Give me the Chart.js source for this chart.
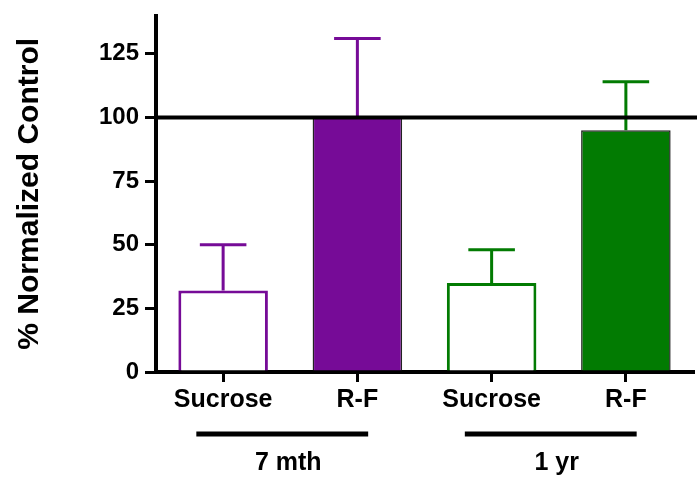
<!DOCTYPE html>
<html>
<head>
<meta charset="utf-8">
<script src="https://cdn.jsdelivr.net/npm/chart.js@4"></script>
<style>
  html, body { margin: 0; padding: 0; background: #fff; }
  #wrap { width: 697px; height: 481px; }
</style>
</head>
<body>
<div id="wrap"><canvas id="normChart"></canvas></div>
<script>
// Chart data
const categories = ['Sucrose', 'R-F', 'Sucrose', 'R-F'];
const groupLabels = ['7 mth', '1 yr'];
const meanValues = [32, 100, 35, 95];
const errorValues = [18, 31, 13, 19];
const yTickValues = [0, 25, 50, 75, 100, 125];
const controlLevel = 100;

const purple = '#760b97';
const green = '#027b02';
const FONT = '"Liberation Sans", Arial, sans-serif';

// Error bars (upper only) drawn through the y scale
const errorBarPlugin = {
    id: 'errorBars',
    afterDatasetsDraw(chart) {
        const ctx = chart.ctx;
        const meta = chart.getDatasetMeta(0);
        const y = chart.scales.y;
        const colors = [purple, purple, green, green];
        meta.data.forEach((bar, i) => {
            const yTop = y.getPixelForValue(meanValues[i] + errorValues[i]);
            const yBase = y.getPixelForValue(meanValues[i]);
            const half = bar.width * 0.26;
            ctx.save();
            ctx.strokeStyle = colors[i];
            ctx.lineWidth = 3;
            ctx.beginPath();
            ctx.moveTo(bar.x, yBase);
            ctx.lineTo(bar.x, yTop);
            ctx.moveTo(bar.x - half, yTop);
            ctx.lineTo(bar.x + half, yTop);
            ctx.stroke();
            ctx.restore();
        });
        // control reference line
        const yc = y.getPixelForValue(controlLevel);
        ctx.save();
        ctx.strokeStyle = '#000';
        ctx.lineWidth = 4;
        ctx.beginPath();
        ctx.moveTo(chart.chartArea.left, yc);
        ctx.lineTo(chart.width, yc);
        ctx.stroke();
        ctx.restore();
    }
};

// Group lines and labels under the x axis
const groupPlugin = {
    id: 'groups',
    afterDraw(chart) {
        const ctx = chart.ctx;
        const x = chart.scales.x;
        const bottom = chart.chartArea.bottom;
        const step = x.getPixelForValue(1) - x.getPixelForValue(0);
        groupLabels.forEach((label, g) => {
            const cx = (x.getPixelForValue(2 * g) + x.getPixelForValue(2 * g + 1)) / 2;
            ctx.save();
            ctx.strokeStyle = '#000';
            ctx.lineWidth = 5;
            ctx.beginPath();
            ctx.moveTo(cx - 8 - step * 0.64, bottom + 62);
            ctx.lineTo(cx - 8 + step * 0.64, bottom + 62);
            ctx.stroke();
            ctx.fillStyle = '#000';
            ctx.font = 'bold 25px ' + FONT;
            ctx.textAlign = 'center';
            ctx.textBaseline = 'middle';
            ctx.fillText(label, cx - 2, bottom + 91);
            ctx.restore();
        });
    }
};

const ctx = document.getElementById('normChart').getContext('2d');
new Chart(ctx, {
    type: 'bar',
    data: {
        labels: categories,
        datasets: [{
            data: meanValues,
            backgroundColor: ['#ffffff', purple, '#ffffff', green],
            borderColor: [purple, '#222222', green, '#222222'],
            borderWidth: [3, 1.5, 3, 1.5],
            borderSkipped: 'bottom',
            barPercentage: 0.667,
            categoryPercentage: 1.0
        }]
    },
    plugins: [errorBarPlugin, groupPlugin],
    options: {
        responsive: true,
        maintainAspectRatio: false,
        animation: false,
        layout: { padding: { top: 0, right: 4, left: 0, bottom: 0 } },
        plugins: {
            legend: { display: false },
            tooltip: { enabled: false }
        },
        scales: {
            x: {
                grid: {
                    display: true,
                    drawOnChartArea: false,
                    offset: false,
                    tickLength: 10,
                    lineWidth: 3,
                    color: '#000'
                },
                border: { display: true, color: '#000', width: 4 },
                ticks: {
                    color: '#000',
                    padding: 3,
                    font: { family: FONT, size: 25, weight: 'bold' }
                },
                afterFit: scale => { scale.height = 109; }
            },
            y: {
                min: 0,
                max: 140,
                afterBuildTicks: scale => {
                    scale.ticks = yTickValues.map(v => ({ value: v }));
                },
                grid: {
                    display: true,
                    drawOnChartArea: false,
                    tickLength: 11,
                    lineWidth: 3,
                    color: '#000'
                },
                border: { display: true, color: '#000', width: 4 },
                ticks: {
                    color: '#000',
                    padding: 6,
                    font: { family: FONT, size: 24, weight: 'bold', lineHeight: 0.8 }
                },
                title: {
                    display: true,
                    text: '% Normalized Control',
                    color: '#000',
                    padding: { top: 12, bottom: 0 },
                    font: { family: FONT, size: 30, weight: 'bold' }
                },
                afterFit: scale => { scale.width = 156; }
            }
        }
    }
});
</script>
</body>
</html>
